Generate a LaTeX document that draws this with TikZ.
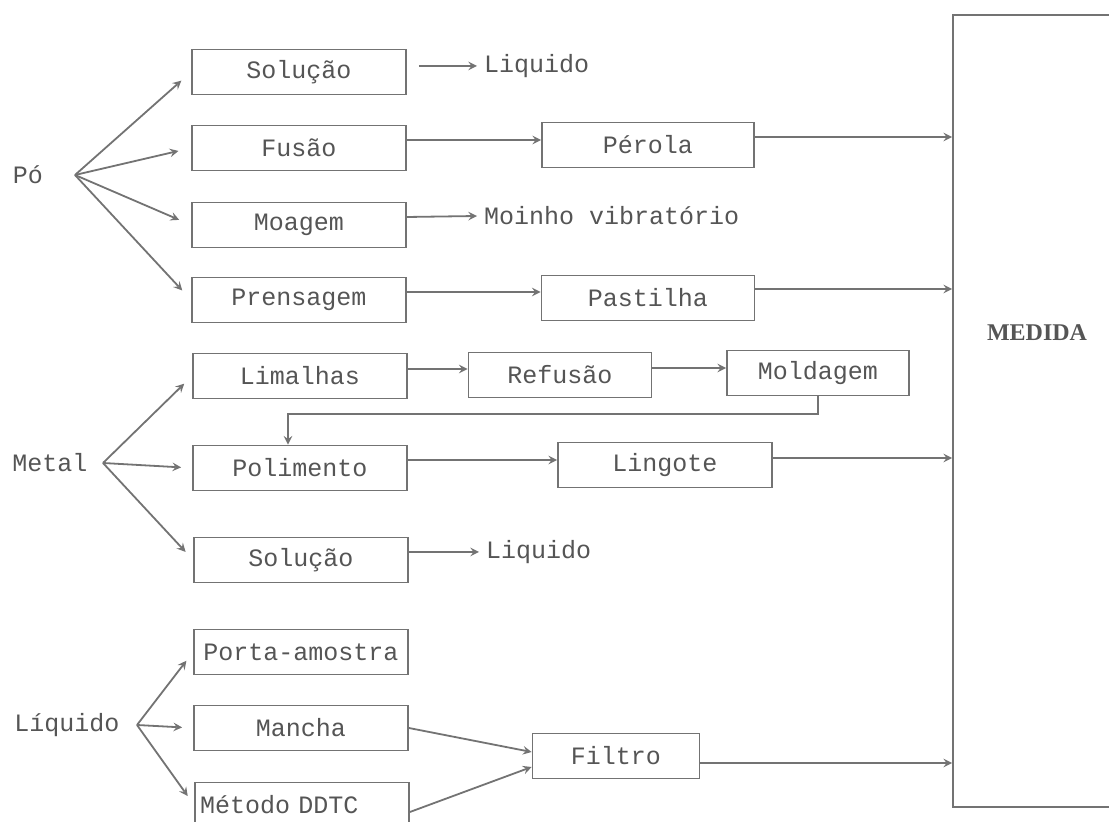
\documentclass[tikz,border=0pt]{standalone}
\usepackage{fontspec}
\setmainfont{Liberation Serif}
\setmonofont{Liberation Mono}
\usetikzlibrary{arrows,positioning}
\definecolor{linegray}{RGB}{115,115,115}
\definecolor{textgray}{RGB}{85,85,85}
\tikzset{
	->,
	>=stealth,
	x=0.5pt, y=-0.5pt,
	every node/.style={font=\ttfamily\fontsize{12.5}{14}\selectfont, text=textgray},
	box/.style={draw=linegray, line width=0.9pt, minimum width=107pt, minimum height=22.5pt, inner sep=2pt},
	conn/.style={draw=linegray, line width=0.9pt},
}

\begin{document}
\begin{tikzpicture}
		\clip (0,0) rectangle (1109,822);

		% entradas
		\node (po) at (28,175) {Pó};
		\node (metal) at (50,463) {Metal};
		\node (liq) at (67,725) {Líquido};
		\coordinate (pofork) at (75,175);
		\coordinate (metalfork) at (103,463);
		\coordinate (liqfork) at (137,725);

		% coluna das preparacoes
		\node[box] (sol1) at (299,72) {Solução};
		\node[box] (fus) at (299,148) {Fusão};
		\node[box] (moa) at (299,225) {Moagem};
		\node[box] (pre) at (299,300) {Prensagem};
		\node[box] (lim) at (300,376) {Limalhas};
		\node[box] (pol) at (300,468) {Polimento};
		\node[box] (sol2) at (301,560) {Solução};
		\node[box] (porta) at (301,652) {Porta-amostra};
		\node[box] (mancha) at (301,728) {Mancha};
		\node[box, text width=102pt, align=left] (metodo) at (302,805) {Método DDTC};

		% produtos
		\node[anchor=west] (liq1) at (477,66) {Liquido};
		\node[anchor=west] (moinho) at (477,216) {Moinho vibratório};
		\node[anchor=west] (liq2) at (479,552) {Liquido};
		\node[box, minimum width=106pt] (perola) at (648,145) {Pérola};
		\node[box, minimum width=106.5pt] (pastilha) at (648,298) {Pastilha};
		\node[box, minimum width=91.5pt] (refusao) at (560,375) {Refusão};
		\node[box, minimum width=91pt] (moldagem) at (818,373) {Moldagem};
		\node[box] (lingote) at (665,465) {Lingote};
		\node[box, minimum width=83.5pt] (filtro) at (616,756) {Filtro};

		\node[draw=linegray, line width=0.9pt, minimum width=88pt, minimum height=396pt] (medida) at (1041,411) {};
		\node[font=\rmfamily\bfseries\fontsize{12}{14}\selectfont] (medidatxt) at (1037,333) {MEDIDA};

		\path[every edge/.append style={conn, shorten >=6.5pt}]
		(pofork) edge (sol1.west)
		(pofork) edge (fus.west)
		(pofork) edge (moa.west)
		(pofork) edge (pre.west);
		\path[every edge/.append style={conn, shorten >=5.5pt}]
		(metalfork) edge (lim.west)
		(metalfork) edge (pol.west)
		(metalfork) edge (sol2.west)
		(liqfork) edge (porta.west)
		(liqfork) edge (mancha.west)
		(liqfork) edge (metodo.west);

		\path[every edge/.append style={conn}]
		([yshift=3pt]sol1.east) ++(6pt,0) edge (liq1.west)
		([yshift=4pt]moa.east) edge (moinho.west)
		([yshift=4pt]sol2.east) edge (liq2.west)
		([yshift=4pt]fus.east) edge ([yshift=4pt]fus.east -| perola.west)
		([yshift=4pt]pre.east) edge ([yshift=4pt]pre.east -| pastilha.west)
		([yshift=3.5pt]lim.east) edge ([yshift=3.5pt]lim.east -| refusao.west)
		([yshift=3.5pt]refusao.east) edge ([yshift=3.5pt]refusao.east -| moldagem.west)
		([yshift=4pt]pol.east) edge ([yshift=4pt]pol.east -| lingote.west)
		([yshift=4pt]perola.east) edge ([yshift=4pt]perola.east -| medida.west)
		([yshift=4.5pt]pastilha.east) edge ([yshift=4.5pt]pastilha.east -| medida.west)
		([yshift=3.5pt]lingote.east) edge ([yshift=3.5pt]lingote.east -| medida.west)
		([yshift=-3.5pt]filtro.east) edge ([yshift=-3.5pt]filtro.east -| medida.west)
		(mancha.east) edge ([yshift=2pt]filtro.west)
		([yshift=-3.5pt]metodo.east) edge ([yshift=-5.5pt]filtro.west);

		\draw[conn] (moldagem.south) -- ++(0,18) -| ([xshift=-6pt]pol.north);
	\end{tikzpicture}
\end{document}
